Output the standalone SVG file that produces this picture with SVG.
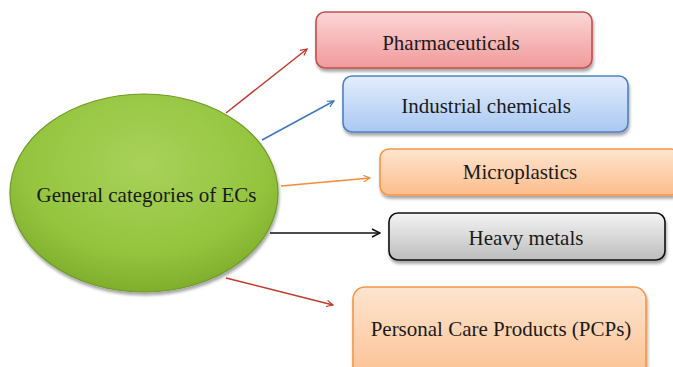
<svg xmlns="http://www.w3.org/2000/svg" width="673" height="367" viewBox="0 0 673 367">
  <style>
    text { font-family: "Liberation Serif", "Times New Roman", serif; font-size: 21px; fill: #1a1a1a; text-anchor: middle; dominant-baseline: central; }
    .box { stroke-width: 1.6; filter: url(#shadow); }
    .conn { fill: none; stroke-width: 1.5; }
  </style>
  <defs>
    <filter id="shadow" x="-10%" y="-20%" width="120%" height="150%">
      <feGaussianBlur in="SourceAlpha" stdDeviation="1.8"/>
      <feOffset dx="1" dy="2.5" result="b"/>
      <feComponentTransfer><feFuncA type="linear" slope="0.35"/></feComponentTransfer>
      <feMerge><feMergeNode/><feMergeNode in="SourceGraphic"/></feMerge>
    </filter>
    <radialGradient id="gGreen" cx="50%" cy="35%" r="65%">
      <stop offset="0" stop-color="#a8d25a"/>
      <stop offset="0.7" stop-color="#94c43e"/>
      <stop offset="1" stop-color="#7fae2c"/>
    </radialGradient>
    <linearGradient id="gRed" x1="0" y1="0" x2="0" y2="1">
      <stop offset="0" stop-color="#fbd6d6"/>
      <stop offset="1" stop-color="#f19a9a"/>
    </linearGradient>
    <linearGradient id="gBlue" x1="0" y1="0" x2="0" y2="1">
      <stop offset="0" stop-color="#e3eefc"/>
      <stop offset="1" stop-color="#a9c8f3"/>
    </linearGradient>
    <linearGradient id="gOrange" x1="0" y1="0" x2="0" y2="1">
      <stop offset="0" stop-color="#fee5d0"/>
      <stop offset="1" stop-color="#fbbd8c"/>
    </linearGradient>
    <linearGradient id="gGray" x1="0" y1="0" x2="0" y2="1">
      <stop offset="0" stop-color="#f4f4f4"/>
      <stop offset="1" stop-color="#bdbdbd"/>
    </linearGradient>
    <marker id="arrowRed" viewBox="0 0 10 10" refX="9" refY="5" markerWidth="8" markerHeight="8" orient="auto" markerUnits="userSpaceOnUse">
      <path d="M1,1 L9,5 L1,9" fill="none" stroke="#c0392b" stroke-width="1.5"/>
    </marker>
    <marker id="arrowBlue" viewBox="0 0 10 10" refX="9" refY="5" markerWidth="8" markerHeight="8" orient="auto" markerUnits="userSpaceOnUse">
      <path d="M1,1 L9,5 L1,9" fill="none" stroke="#3f76c0" stroke-width="1.5"/>
    </marker>
    <marker id="arrowOrange" viewBox="0 0 10 10" refX="9" refY="5" markerWidth="8" markerHeight="8" orient="auto" markerUnits="userSpaceOnUse">
      <path d="M1,1 L9,5 L1,9" fill="none" stroke="#f58a3a" stroke-width="1.5"/>
    </marker>
    <marker id="arrowBlack" viewBox="0 0 10 10" refX="9" refY="5" markerWidth="10" markerHeight="10" orient="auto" markerUnits="userSpaceOnUse">
      <path d="M1,1 L9,5 L1,9" fill="none" stroke="#111" stroke-width="1.5"/>
    </marker>
  </defs>

  <rect width="673" height="367" fill="#ffffff"/>

  <g id="connectors">
    <line class="conn" x1="226" y1="113" x2="307" y2="49" stroke="#c0392b" marker-end="url(#arrowRed)"/>
    <line class="conn" x1="262" y1="140" x2="334" y2="101" stroke="#3f76c0" marker-end="url(#arrowBlue)"/>
    <line class="conn" x1="281" y1="186" x2="370" y2="178" stroke="#f58a3a" marker-end="url(#arrowOrange)"/>
    <line class="conn" x1="270" y1="233" x2="380" y2="233" stroke="#111" stroke-width="1.8" marker-end="url(#arrowBlack)"/>
    <line class="conn" x1="226" y1="278" x2="333" y2="305" stroke="#c0392b" marker-end="url(#arrowRed)"/>
  </g>

  <g id="center">
    <ellipse cx="144" cy="193" rx="134" ry="99" fill="url(#gGreen)" stroke="#6f9a2a" stroke-width="1.2" filter="url(#shadow)"/>
    <text x="146.5" y="195">General categories of ECs</text>
  </g>

  <g id="pharmaceuticals">
    <rect class="box" x="316" y="12" width="276" height="56" rx="9" fill="url(#gRed)" stroke="#c0504d"/>
    <text x="451" y="43">Pharmaceuticals</text>
  </g>

  <g id="industrial-chemicals">
    <rect class="box" x="343" y="76" width="285" height="56" rx="9" fill="url(#gBlue)" stroke="#4f81bd"/>
    <text x="486" y="106">Industrial chemicals</text>
  </g>

  <g id="microplastics">
    <rect class="box" x="380" y="149" width="300" height="46" rx="9" fill="url(#gOrange)" stroke="#f79646"/>
    <text x="520" y="172">Microplastics</text>
  </g>

  <g id="heavy-metals">
    <rect class="box" x="389" y="213" width="276" height="47" rx="9" fill="url(#gGray)" stroke="#111111"/>
    <text x="526" y="238">Heavy metals</text>
  </g>

  <g id="pcps">
    <rect class="box" x="353" y="287" width="293" height="100" rx="12" fill="url(#gOrange)" stroke="#f79646"/>
    <text x="501" y="329">Personal Care Products (PCPs)</text>
  </g>
</svg>
